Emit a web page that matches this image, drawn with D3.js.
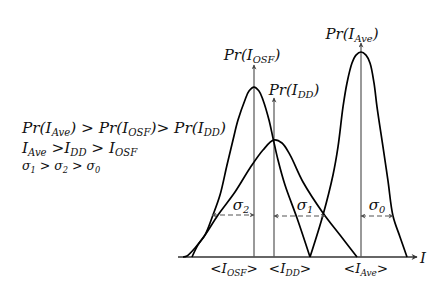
<!DOCTYPE html>
<html><head><meta charset="utf-8">
<script src="https://cdn.jsdelivr.net/npm/d3@7"></script>
<style>
html,body{margin:0;padding:0;background:#fff;}
</style></head>
<body><svg id="c" width="441" height="288"></svg>
<script>
// Curve samples: x = intensity (arbitrary units), y = probability (Ave peak = 1)
const osfX = [14, 20, 27, 35, 42, 49, 55, 60, 67, 71, 76, 81, 85, 91, 95, 100, 107, 119, 132];
const osfY = [0, 0.059, 0.107, 0.205, 0.302, 0.449, 0.571, 0.668, 0.766, 0.81, 0.829, 0.81, 0.766, 0.668, 0.58, 0.473, 0.351, 0.19, 0];
const ddX = [5, 9, 17, 27, 40, 57, 72, 85, 96, 104, 112, 125, 145, 162, 179];
const ddY = [0, 0.005, 0.044, 0.107, 0.205, 0.317, 0.434, 0.522, 0.571, 0.556, 0.498, 0.366, 0.215, 0.107, 0];
const aveX = [132, 145, 155, 160, 165, 169, 174, 178, 183, 188, 192, 196, 199, 205, 210, 215, 222, 229];
const aveY = [0, 0.205, 0.4, 0.537, 0.732, 0.849, 0.946, 0.985, 1.0, 0.985, 0.946, 0.849, 0.732, 0.537, 0.371, 0.2, 0.098, 0];
// Means and heights of the arrows
const categories = ["OSF", "DD", "Ave"];
const means = [76, 96, 183];
const arrowTops = [0.937, 0.776, 1.044];
// sigma half-widths
const sigmaNames = ["2", "1", "0"];
const sigmaFrom = [34, 96, 183];
const sigmaTo = [76, 147, 215];
const sigmaLevel = [0.205, 0.2, 0.2];
const axisMax = 239;

const FONT = "'DejaVu Serif', 'Liberation Serif', 'Times New Roman', serif";
const svg = d3.select("#c");
const x = d3.scaleLinear().domain([0, 240]).range([178, 418]);
const y = d3.scaleLinear().domain([0, 1]).range([257, 52]);

const defs = svg.append("defs");
function marker(id, color, w, h) {
  defs.append("marker").attr("id", id).attr("viewBox", "0 0 10 10")
    .attr("refX", 9).attr("refY", 5).attr("markerWidth", w).attr("markerHeight", h)
    .attr("orient", "auto-start-reverse").attr("markerUnits", "userSpaceOnUse")
    .append("path").attr("d", "M0,0 L10,5 L0,10 L3,5 Z").attr("fill", color);
}
marker("arr", "#444", 6, 5);
marker("arrS", "#555", 6, 5);
marker("arrAx", "#333", 8, 6);

svg.append("line").attr("x1", x(0)).attr("x2", x(axisMax)).attr("y1", y(0)).attr("y2", y(0))
  .attr("stroke", "#333").attr("stroke-width", 1.3).attr("marker-end", "url(#arrAx)");

categories.forEach((c, i) => {
  svg.append("line").attr("x1", x(means[i])).attr("x2", x(means[i]))
    .attr("y1", y(0)).attr("y2", y(arrowTops[i]))
    .attr("stroke", "#555").attr("stroke-width", 1.2).attr("marker-end", "url(#arr)");
});

const line = d3.line().x(d => x(d[0])).y(d => y(d[1])).curve(d3.curveCatmullRom.alpha(0.5));
[[osfX, osfY], [ddX, ddY], [aveX, aveY]].forEach(([xs, ys]) => {
  svg.append("path").attr("d", line(xs.map((v, i) => [v, ys[i]])))
    .attr("fill", "none").attr("stroke", "#000").attr("stroke-width", 1.7);
});

sigmaNames.forEach((s, i) => {
  svg.append("line").attr("x1", x(sigmaFrom[i])).attr("x2", x(sigmaTo[i]))
    .attr("y1", y(sigmaLevel[i])).attr("y2", y(sigmaLevel[i]))
    .attr("stroke", "#555").attr("stroke-width", 1.2).attr("stroke-dasharray", "5,3")
    .attr("marker-start", "url(#arrS)").attr("marker-end", "url(#arrS)");
});

function rich(g, px, py, segs, size, anchor) {
  const t = g.append("text").attr("x", px).attr("y", py).attr("font-size", size)
    .attr("font-family", FONT).attr("font-style", "italic").attr("fill", "#111")
    .attr("text-anchor", anchor || "start");
  let down = false;
  segs.forEach(([s, sub]) => {
    const ts = t.append("tspan").text(s);
    if (sub && !down) { ts.attr("dy", size * 0.2).attr("font-size", size * 0.66); down = true; }
    else if (sub) { ts.attr("font-size", size * 0.66); }
    else if (!sub && down) { ts.attr("dy", -size * 0.2); down = false; }
  });
  return t;
}

const sigLabX = [241, 305, 377];
sigmaNames.forEach((s, i) => {
  rich(svg, sigLabX[i], 210, [["σ", false], [s, true]], 15, "middle");
});

const tickLabX = [234, 290, 366];
categories.forEach((c, i) => {
  rich(svg, tickLabX[i], 273, [["<I", false], [c, true], [">", false]], 13.5, "middle");
});
rich(svg, 420, 263, [["I", false]], 15);

rich(svg, 252, 60, [["Pr(I", false], ["OSF", true], [")", false]], 15, "middle");
rich(svg, 294, 95, [["Pr(I", false], ["DD", true], [")", false]], 15, "middle");
rich(svg, 352, 39, [["Pr(I", false], ["Ave", true], [")", false]], 15, "middle");

rich(svg, 22, 133, [["Pr(I", false], ["Ave", true], [") > Pr(I", false], ["OSF", true], [")> Pr(I", false], ["DD", true], [")", false]], 15.3);
rich(svg, 22, 153, [["I", false], ["Ave", true], [" >I", false], ["DD", true], [" > I", false], ["OSF", true]], 15.3);
rich(svg, 22, 170, [["σ", false], ["1", true], [" > σ", false], ["2", true], [" > σ", false], ["0", true]], 12.5);
</script></body></html>
